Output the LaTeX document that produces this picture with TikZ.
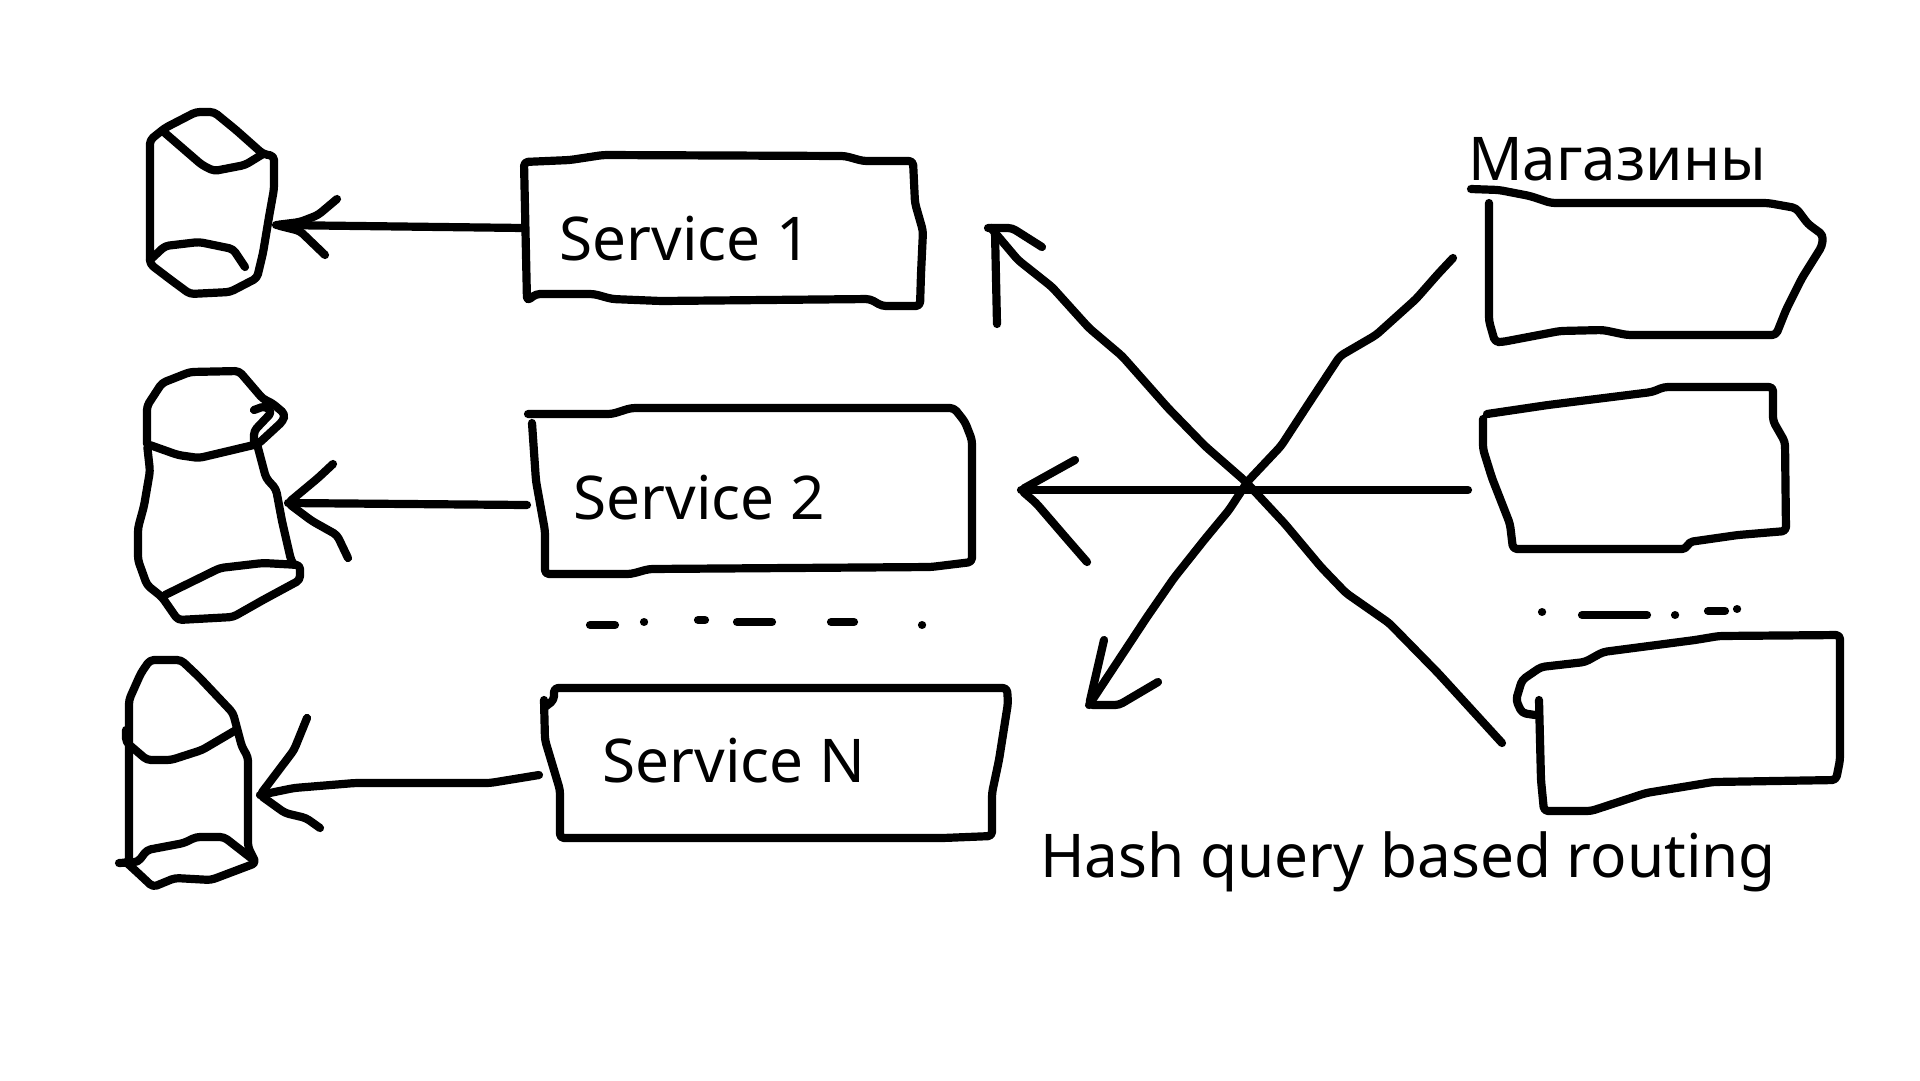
\documentclass[tikz,border=0pt]{standalone}
\usepackage{fontspec}
\setmainfont{Noto Sans}
\usetikzlibrary{calc}

\begin{document}
\begin{tikzpicture}[x=1pt, y=-1pt,
    pen/.style={draw, line width=8.2pt, line cap=round, line join=round, rounded corners=4pt},
    label/.style={font=\fontsize{60.3}{72}\selectfont, anchor=base west, inner sep=0pt}]
    \useasboundingbox (0,0) rectangle (1920,1080);
    \node[label] (S1) at (559.5,260) {Service 1};
    \node[label] (S2) at (573.5,519) {Service 2};
    \node[label] (SN) at (602.5,782) {Service N};
    \node[label] (M) at (1468,180) {Магазины};
    \node[label] (H) at (1040,877) {Hash query based routing};
    \coordinate (A1) at (524,228);
    \coordinate (A2) at (527,505);
    \coordinate (AN) at (539,775);
    \coordinate (D1) at (276,225);
    \coordinate (D2) at (288,503);
    \coordinate (DN) at (260,795);
    \coordinate (T1) at (991,228);
    \coordinate (T2) at (1021,490);
    \coordinate (TN) at (1089,705);
    \coordinate (R1) at (1453,258);
    \coordinate (R2) at (1468,490);
    \coordinate (RN) at (1502,743);
    \draw[pen] (150,264) -- (150,140) -- (165,128) -- (196,112) -- (214,112) -- (236,130) -- (263,154) -- (274,156) -- (274,189) -- (269,217) -- (263,253) -- (257,278) -- (230,292) -- (190,294) -- (171,280) -- cycle;
    \draw[pen] (165,133) -- (202,165) -- (214,171) -- (245,165) -- (263,154);
    \draw[pen] (150,260) -- (165,246) -- (199,242) -- (233,249) -- (245,267);
    \draw[pen] (147,444) -- (147,406) -- (162,383) -- (190,372) -- (239,371) -- (263,399) -- (272,403) -- (285,414) -- (283,421) -- (258,444) -- (199,458) -- (178,455) -- (147,444) -- (150,471) -- (144,506) -- (138,528) -- (138,560) -- (147,585) -- (162,597) -- (178,620) -- (233,617) -- (263,600) -- (300,580) -- (300,565) -- (263,563) -- (220,568) -- (165,595);
    \draw[pen] (254,444) -- (254,431) -- (272,412) -- (265,406) -- (254,410);
    \draw[pen] (257,444) -- (266,478) -- (276,489) -- (282,521) -- (291,560) -- (294,565);
    \draw[pen] (129,860) -- (129,700) -- (141,673) -- (150,660) -- (181,660) -- (199,677) -- (233,713) -- (242,747) -- (248,757) -- (248,847) -- (256,863) -- (211,880) -- (175,878) -- (153,887) -- (138,873) -- (126,862);
    \draw[pen] (126,730) -- (126,742) -- (147,760) -- (171,760) -- (202,750) -- (236,730);
    \draw[pen] (119,863) -- (138,862) -- (147,850) -- (184,843) -- (196,837) -- (224,837) -- (251,858);
    \draw[pen] (524,162) -- (570,160) -- (603,155) -- (845,156) -- (863,161) -- (913,161) -- (915,203) -- (923,231) -- (921,274) -- (920,306) -- (882,306) -- (870,299) -- (661,301) -- (612,299) -- (594,294) -- (536,294) -- (527,301) -- cycle;
    \draw[pen] (528,414) -- (612,414) -- (631,408) -- (954,408) -- (965,422) -- (972,440) -- (972,562) -- (931,567) -- (649,569) -- (631,574) -- (545,574) -- (545,531) -- (536,481) -- (532,423);
    \draw[pen] (545,707) -- (554,700) -- (554,688) -- (1007,688) -- (1008,703) -- (999,760) -- (992,793) -- (992,836) -- (943,838) -- (560,838) -- (560,790) -- (545,740) -- (544,700);
    \draw[pen] (1471,189) -- (1499,190) -- (1530,196) -- (1551,203) -- (1768,203) -- (1796,208) -- (1808,224) -- (1823,235) -- (1822,246) -- (1802,278) -- (1786,310) -- (1776,335) -- (1627,335) -- (1603,330) -- (1560,331) -- (1502,342) -- (1495,342) -- (1489,321) -- (1489,203);
    \draw[pen] (1487,414) -- (1548,405) -- (1652,392) -- (1664,387) -- (1773,387) -- (1773,421) -- (1785,442) -- (1786,531) -- (1738,535) -- (1689,542) -- (1686,549) -- (1513,549) -- (1510,524) -- (1492,478) -- (1483,449) -- (1483,419);
    \draw[pen] (1539,700) -- (1541,780) -- (1544,811) -- (1591,811) -- (1646,793) -- (1713,782) -- (1836,780) -- (1840,760) -- (1840,635) -- (1719,636) -- (1695,640) -- (1603,652) -- (1585,662) -- (1541,667) -- (1522,680) -- (1516,700) -- (1522,713) -- (1535,715);
    \draw[pen] (A1) -- (D1);
    \draw[pen] (337,199) -- (318,215) -- (300,222) -- (D1) -- (300,231) -- (325,255);
    \draw[pen] (A2) -- (D2);
    \draw[pen] (333,464) -- (318,478) -- (D2) -- (312,521) -- (337,535) -- (348,558);
    \draw[pen] (AN) -- (490,783) -- (355,783) -- (294,788) -- (DN);
    \draw[pen] (307,718) -- (294,750) -- (DN) -- (285,813) -- (306,818) -- (320,828);
    \draw[pen] (997,324) -- (995,232);
    \draw[pen] (988,228) -- (1012,228) -- (1042,247);
    \draw[pen] (RN) -- (1438,673) -- (1389,623) -- (1346,593) -- (1321,567) -- (1285,524) -- (1245,481) -- (1205,446) -- (1168,408) -- (1122,356) -- (1089,328) -- (1052,287) -- (1018,260) -- (T1);
    \draw[pen] (R1) -- (1438,274) -- (1416,299) -- (1376,335) -- (1340,356) -- (1309,403) -- (1281,446) -- (1248,481) -- (1229,510) -- (1205,539) -- (1174,578) -- (1147,617) -- (TN);
    \draw[pen] (1104,640) -- (TN) -- (1119,705) -- (1158,682);
    \draw[pen] (R2) -- (T2);
    \draw[pen] (1075,460) -- (T2) -- (1036,503) -- (1067,539) -- (1087,562);
    \draw[pen] (590,625) -- (615,625);
    \draw[pen] (644,622) -- (644.1,622);
    \draw[pen] (698,620) -- (705,620);
    \draw[pen] (737,622) -- (772,622);
    \draw[pen] (831,622) -- (854,622);
    \draw[pen] (922,625) -- (922.1,625);
    \draw[pen] (1542,612) -- (1542.1,612);
    \draw[pen] (1582,615) -- (1647,615);
    \draw[pen] (1675,615) -- (1675.1,615);
    \draw[pen] (1708,611) -- (1725,611);
    \draw[pen] (1737,609) -- (1737.1,609);
\end{tikzpicture}
\end{document}
